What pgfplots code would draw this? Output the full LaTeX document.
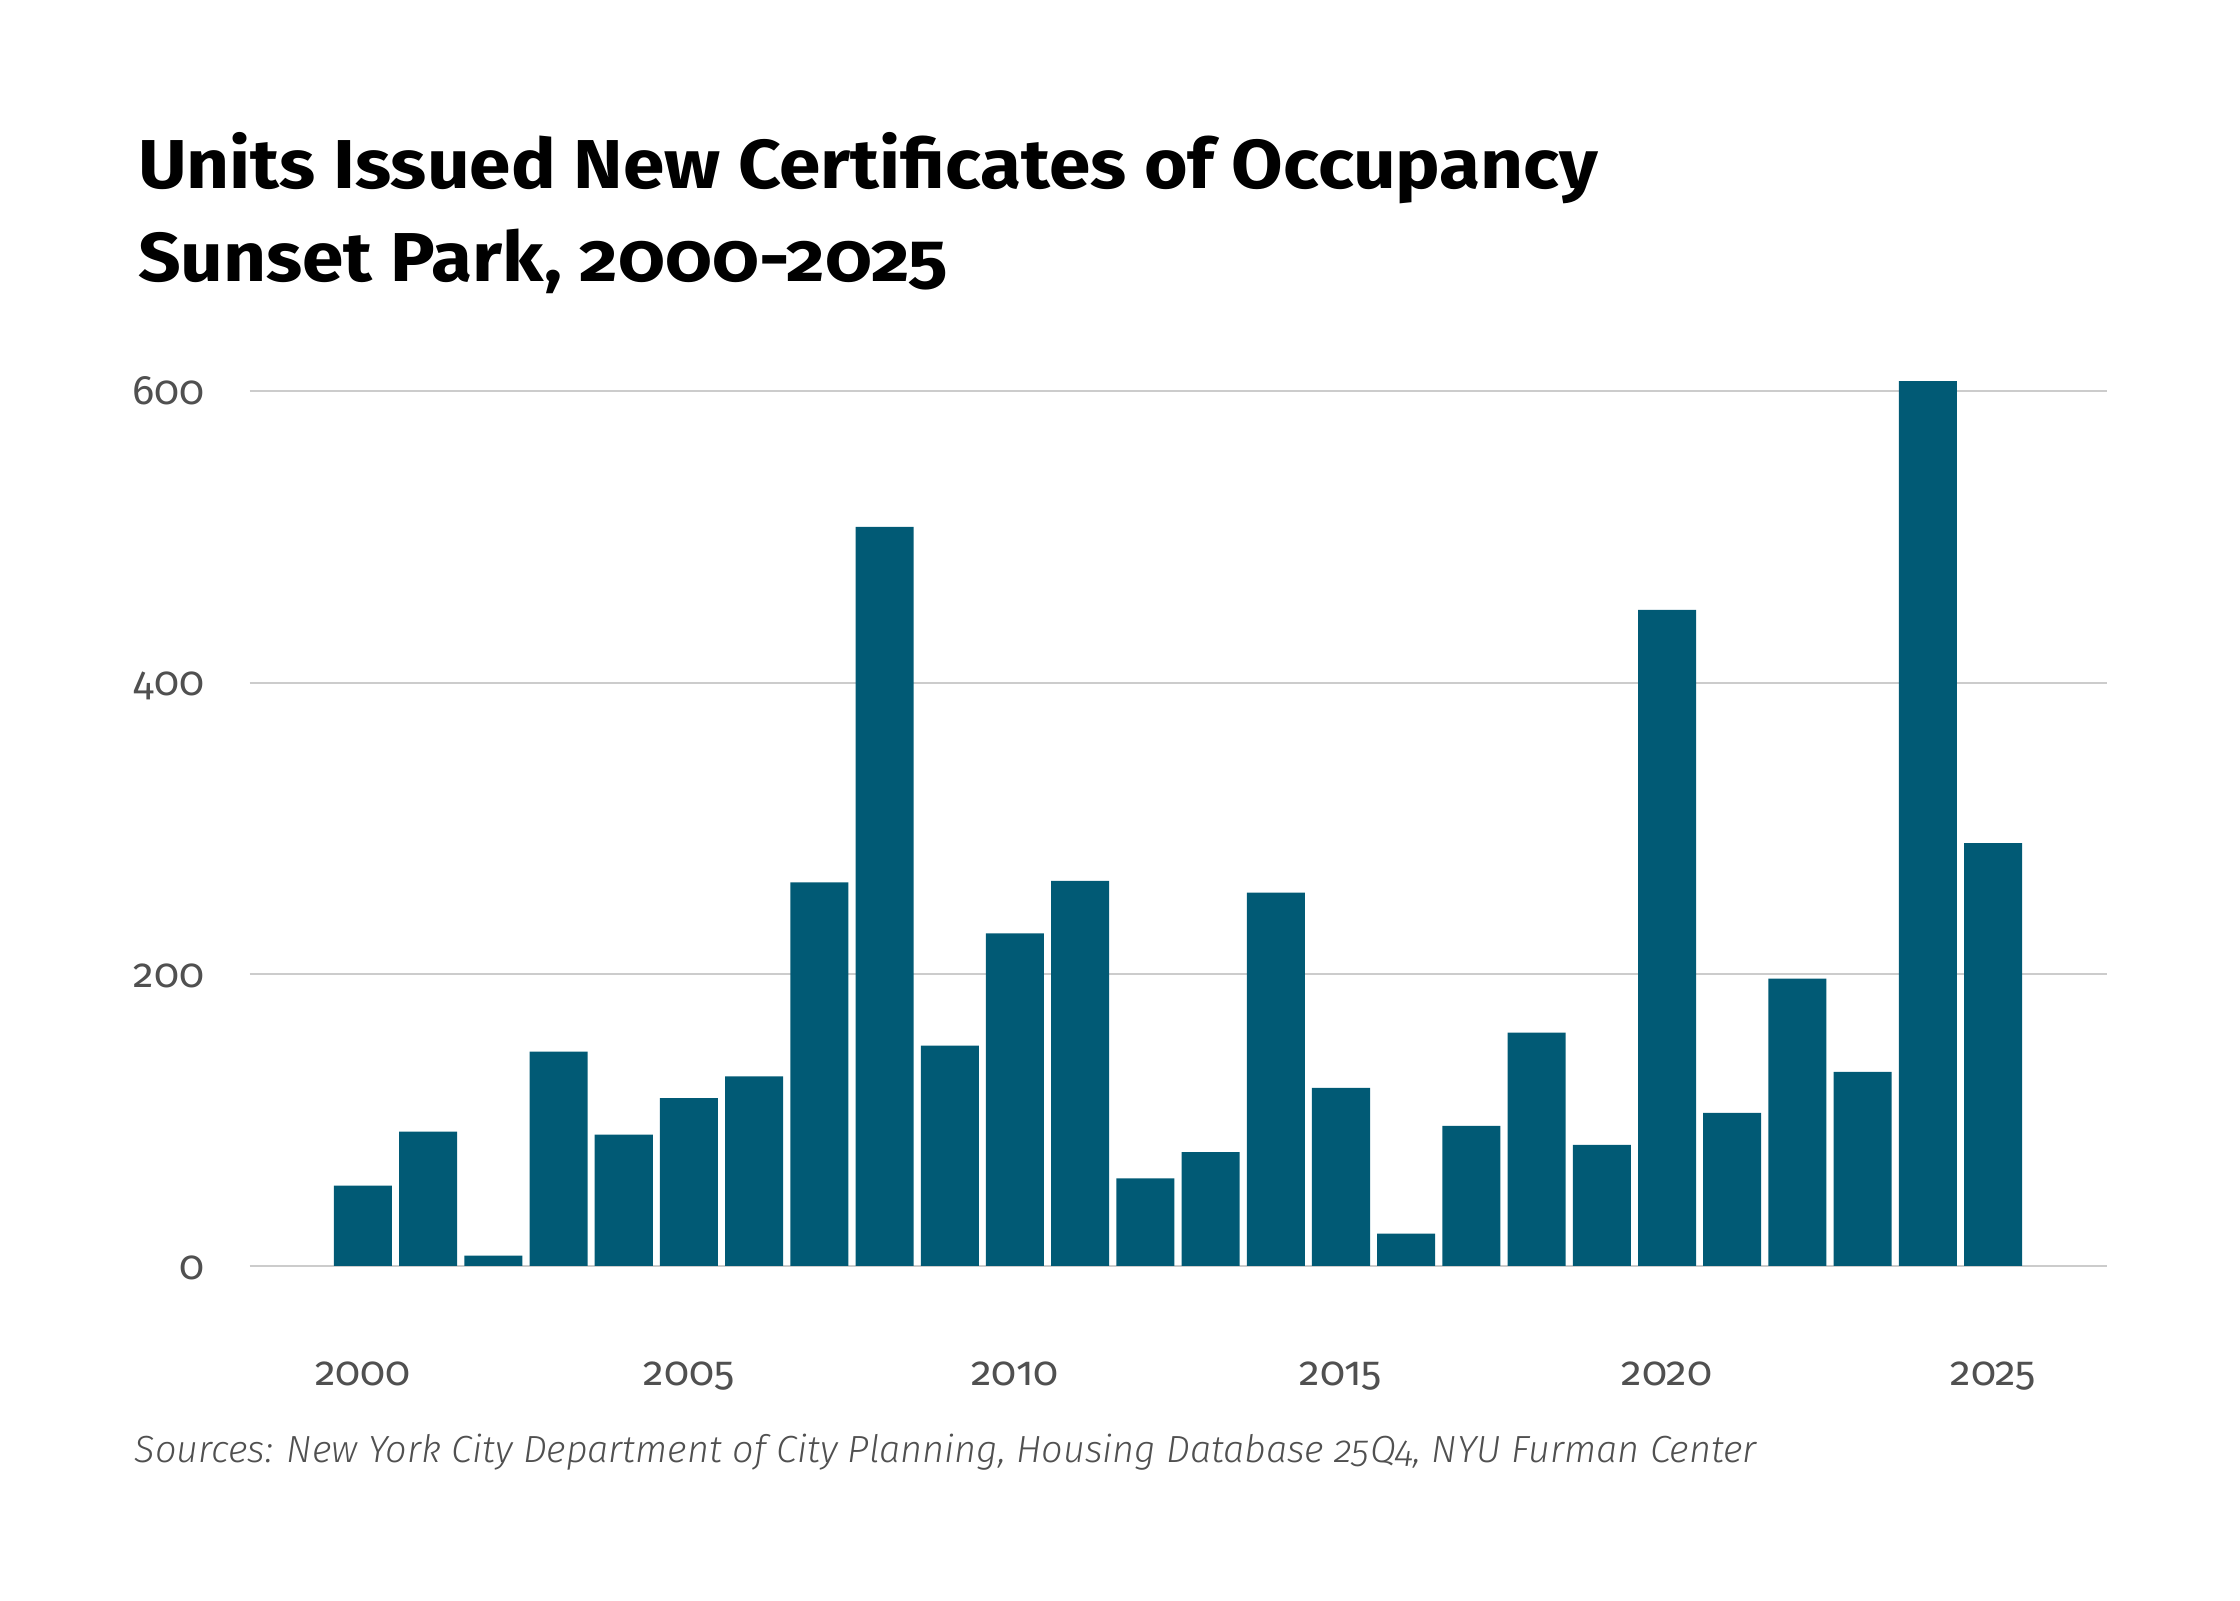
\documentclass[border=0pt]{standalone}
\usepackage{fontspec}
\usepackage{pgfplots}
\pgfplotsset{compat=1.18}
\newfontfamily\titlefont[Numbers=OldStyle, FakeStretch=1.08]{Fira Sans Bold}
\newfontfamily\tickfont[Numbers=OldStyle]{Fira Sans}
\newfontfamily\lightitfont[Numbers=OldStyle]{Fira Sans Light Italic}
\definecolor{barblue}{RGB}{1,90,117}
\definecolor{tickgray}{RGB}{80,80,80}
\definecolor{gridgray}{RGB}{204,204,204}
\begin{document}
\begin{tikzpicture}
\path[use as bounding box] (0pt,0pt) rectangle (560pt,400pt);
\node[anchor=base west, inner sep=0pt] at (34.3pt,352.9pt)
  {\titlefont\fontsize{17.3pt}{20pt}\selectfont Units Issued New Certificates of Occupancy};
\node[anchor=base west, inner sep=0pt] at (34.3pt,329.6pt)
  {\titlefont\fontsize{17.3pt}{20pt}\selectfont Sunset Park, 2000-2025};
\node[anchor=base west, inner sep=0pt, text=tickgray] at (33.5pt,34.3pt)
  {\lightitfont\fontsize{9.45pt}{11pt}\selectfont Sources: New York City Department of City Planning, Housing Database 25Q4, NYU Furman Center};
\begin{axis}[
  at={(62.4pt,83.55pt)}, anchor=south west,
  scale only axis, width=464.35pt, height=225.94pt,
  xmin=1998.262, xmax=2026.748, ymin=0, ymax=620,
  axis line style={draw=none},
  ytick={0,200,400,600},
  xtick={2000,2005,2010,2015,2020,2025},
  xticklabels={2000,2005,2010,2015,2020,2025},
  major tick length=0pt,
  ymajorgrids, xmajorgrids=false,
  grid style={gridgray, line width=0.5pt},
  /pgf/number format/assume math mode=true,
  tick label style={font=\tickfont\fontsize{10.3pt}{12pt}\selectfont, text=tickgray},
  yticklabel style={anchor=base east, inner sep=0pt, xshift=-11.15pt, yshift=-3.3pt},
  xticklabel style={anchor=base, inner sep=0pt, yshift=-29.8pt},
  clip=false,
]
\addplot[ybar, bar width=0.89, fill=barblue, draw=none] coordinates {
(2000,55) (2001,92) (2002,7) (2003,147) (2004,90) (2005,115) (2006,130)
(2007,263) (2008,507) (2009,151) (2010,228) (2011,264) (2012,60) (2013,78)
(2014,256) (2015,122) (2016,22) (2017,96) (2018,160) (2019,83) (2020,450)
(2021,105) (2022,197) (2023,133) (2024,607) (2025,290)
};
\end{axis}
\end{tikzpicture}
\end{document}
